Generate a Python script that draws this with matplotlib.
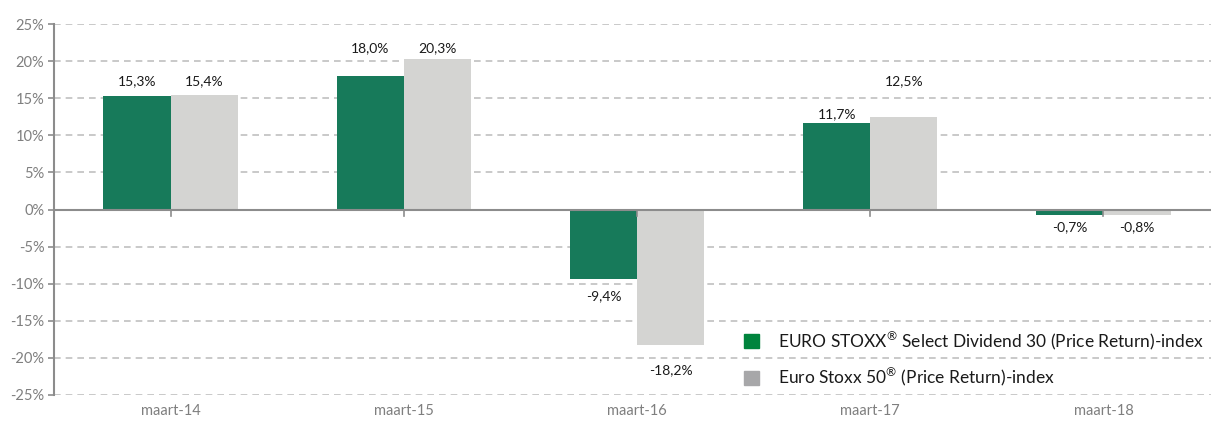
import matplotlib
matplotlib.use("Agg")
import matplotlib.pyplot as plt
import numpy as np
from matplotlib.patches import Patch

plt.rcParams["font.family"] = ["Lato", "DejaVu Sans"]
plt.rcParams["mathtext.fontset"] = "custom"
plt.rcParams["mathtext.rm"] = "Lato"

# Data
categories = ["maart-14", "maart-15", "maart-16", "maart-17", "maart-18"]
dividend30 = [15.3, 18.0, -9.4, 11.7, -0.7]
stoxx50 = [15.4, 20.3, -18.2, 12.5, -0.8]
series_names = ["EURO STOXX$^{\u00ae}$ Select Dividend 30 (Price Return)-index",
                "Euro Stoxx 50$^{\u00ae}$ (Price Return)-index"]
# label heights as placed in the original chart (in %)
label_y_div = [17.25, 21.7, -11.7, 12.9, -2.4]
label_y_sx = [17.25, 21.7, -21.7, 17.25, -2.4]

GREEN = "#177A5A"
GREY = "#D4D4D2"
AXIS = "#8C8C8C"

fig = plt.figure(figsize=(12.11, 4.21), dpi=100)
# axes intentionally runs past the right edge, like the original
ax = fig.add_axes([54 / 1211, 26 / 421, 1166 / 1211, 371 / 421])

x = np.arange(len(categories))
w = 0.288
ax.bar(x - w / 2, dividend30, w, color=GREEN, zorder=3)
ax.bar(x + w / 2, stoxx50, w, color=GREY, zorder=3)

for xi, v, ly in zip(x, dividend30, label_y_div):
    ax.text(xi - w / 2, ly, f"{v:.1f}%".replace(".", ","), ha="center",
            va="center", fontsize=10, color="#1a1a1a")
for xi, v, ly in zip(x, stoxx50, label_y_sx):
    ax.text(xi + w / 2, ly, f"{v:.1f}%".replace(".", ","), ha="center",
            va="center", fontsize=10, color="#1a1a1a")

ax.set_xlim(-0.5, 4.5)
ax.set_ylim(-25, 25)
yt = np.arange(-25, 26, 5)
ax.set_yticks(yt)
ax.set_yticklabels([f"{t}%" for t in yt], fontsize=10.5, color="#7F7F7F")
ax.yaxis.grid(True, ls=(0, (4, 3)), color="#C0C0C0", lw=1.2, zorder=0)

for s in ["top", "right", "bottom"]:
    ax.spines[s].set_visible(False)
ax.spines["left"].set_color(AXIS)
ax.spines["left"].set_linewidth(1.5)
ax.axhline(0, color=AXIS, lw=1.5, zorder=4)

ax.set_xticks(x)
ax.set_xticklabels([])
ax.tick_params(axis="x", length=0)
ax.tick_params(axis="y", length=4, color=AXIS, width=1.2, pad=3)
# ticks hanging below the zero line
for xi in x:
    ax.plot([xi, xi], [0, -0.9], color=AXIS, lw=1.2, zorder=4, clip_on=False)
for xi, c in zip(x, categories):
    ax.text(xi, -27.2, c, ha="center", va="center", fontsize=10.5, color="#7F7F7F")

handles = [Patch(color="#00843D"), Patch(color="#A7A7A9")]
fig.legend(handles, series_names, loc="upper left",
           bbox_to_anchor=(728 / 1211, 1 - 313 / 421), frameon=False,
           fontsize=12.5, handlelength=0.9, handleheight=0.9, handletextpad=1.1,
           labelspacing=0.8, labelcolor="#1a1a1a")

fig.savefig("out.png", dpi=100)
